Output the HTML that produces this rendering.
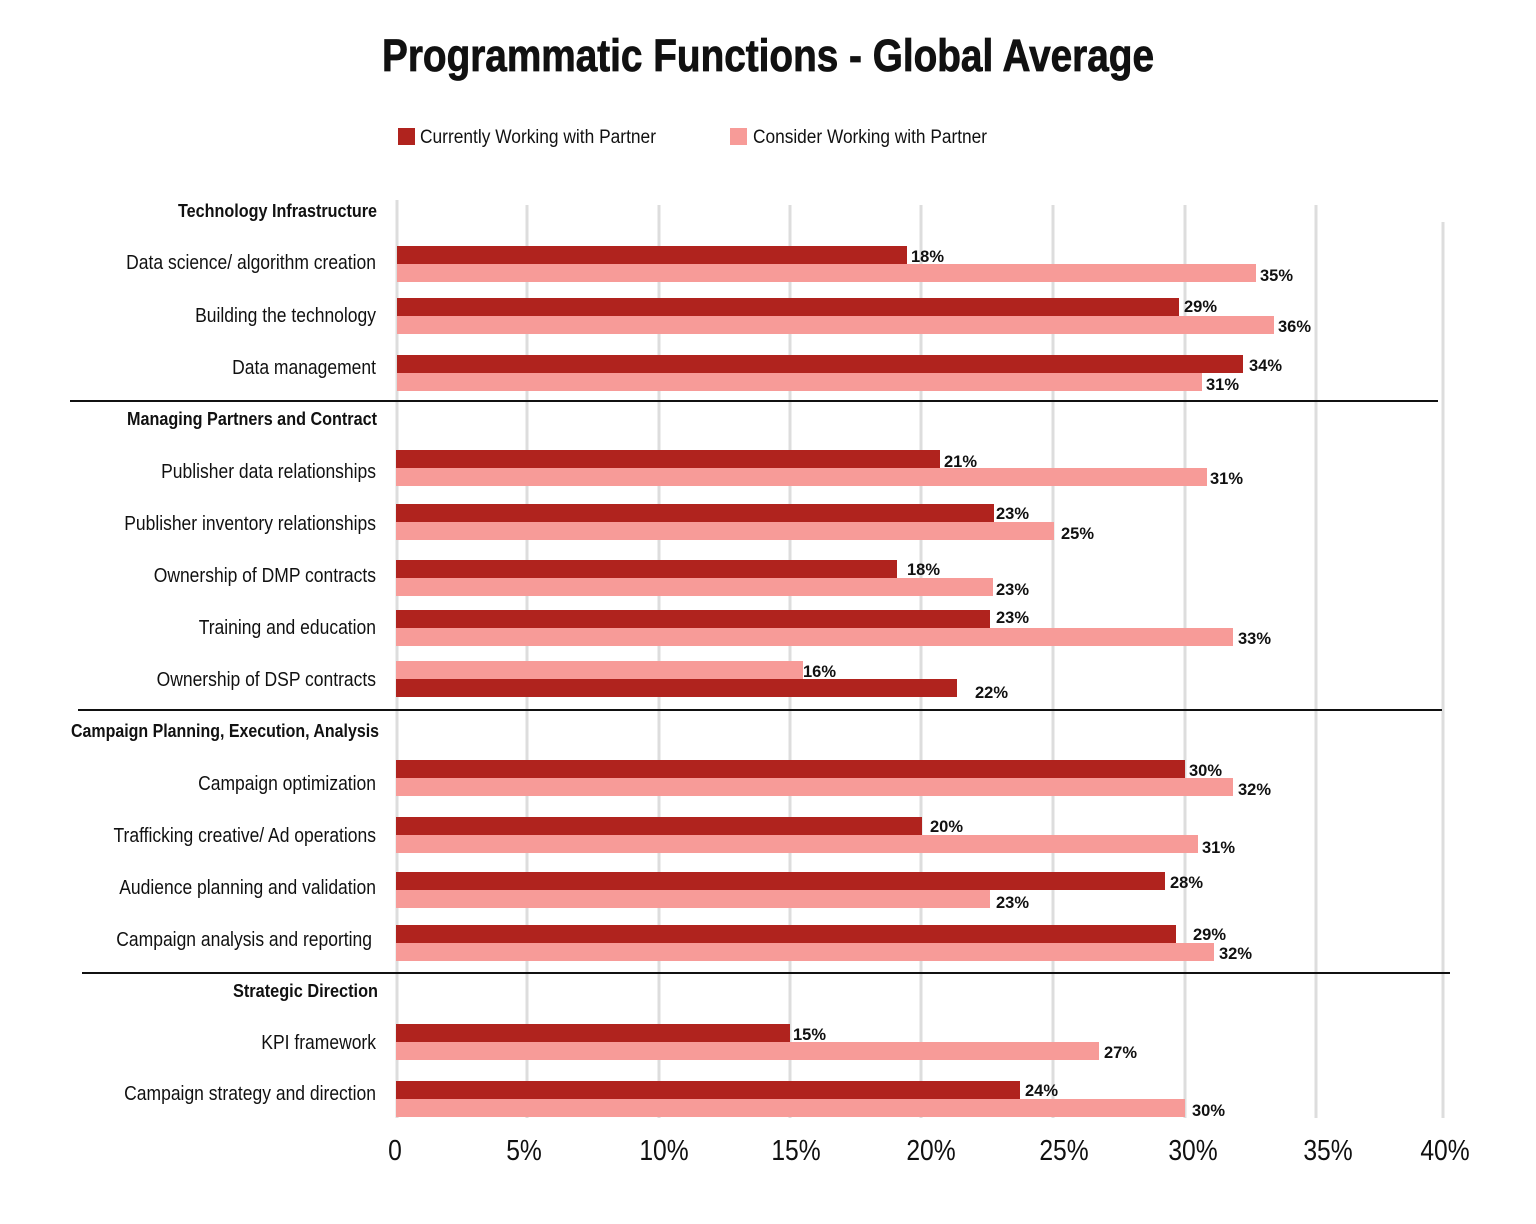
<!DOCTYPE html>
<html><head><meta charset="utf-8"><style>
html,body{margin:0;padding:0;background:#fff}
svg{display:block}
text{font-family:"Liberation Sans",sans-serif;fill:#111}
.lab{font-size:20px}
.hd{font-size:18px;font-weight:bold}
.v{font-size:17px;font-weight:bold}
.ax{font-size:29px}
</style></head><body>
<svg width="1536" height="1224" viewBox="0 0 1536 1224">
<rect width="1536" height="1224" fill="#fff"/>
<text x="768" y="71" text-anchor="middle" font-size="45" font-weight="bold" textLength="772" lengthAdjust="spacingAndGlyphs" stroke="#111" stroke-width="0.8">Programmatic Functions - Global Average</text>
<rect x="398" y="128" width="17" height="17" fill="#b0231e"/>
<text x="420" y="143" font-size="19" textLength="236" lengthAdjust="spacingAndGlyphs">Currently Working with Partner</text>
<rect x="730" y="128" width="17" height="17" fill="#f79b98"/>
<text x="753" y="143" font-size="19" textLength="234" lengthAdjust="spacingAndGlyphs">Consider Working with Partner</text>
<g stroke="#dddddd" stroke-width="3">
<line x1="397" y1="200" x2="397" y2="1118"/><line x1="527" y1="205" x2="527" y2="1118"/>
<line x1="659" y1="205" x2="659" y2="1118"/><line x1="790" y1="205" x2="790" y2="1118"/>
<line x1="921" y1="205" x2="921" y2="1118"/><line x1="1053" y1="205" x2="1053" y2="1118"/>
<line x1="1185" y1="205" x2="1185" y2="1118"/><line x1="1316" y1="205" x2="1316" y2="1118"/>
<line x1="1443" y1="222" x2="1443" y2="1118"/>
</g>
<g stroke="#111" stroke-width="2">
<line x1="70" y1="401" x2="1438" y2="401"/><line x1="78" y1="710" x2="1442" y2="710"/><line x1="82" y1="973" x2="1450" y2="973"/>
</g>
<g>
<rect x="397" y="246" width="510" height="18" fill="#b0231e"/><rect x="397" y="264" width="859" height="18" fill="#f79b98"/>
<rect x="397" y="298" width="782" height="18" fill="#b0231e"/><rect x="397" y="316" width="877" height="18" fill="#f79b98"/>
<rect x="397" y="355" width="846" height="18" fill="#b0231e"/><rect x="397" y="373" width="805" height="18" fill="#f79b98"/>
<rect x="396" y="450" width="544" height="18" fill="#b0231e"/><rect x="396" y="468" width="811" height="18" fill="#f79b98"/>
<rect x="396" y="504" width="598" height="18" fill="#b0231e"/><rect x="396" y="522" width="658" height="18" fill="#f79b98"/>
<rect x="396" y="560" width="501" height="18" fill="#b0231e"/><rect x="396" y="578" width="597" height="18" fill="#f79b98"/>
<rect x="396" y="610" width="594" height="18" fill="#b0231e"/><rect x="396" y="628" width="837" height="18" fill="#f79b98"/>
<rect x="396" y="661" width="407" height="18" fill="#f79b98"/><rect x="396" y="679" width="561" height="18" fill="#b0231e"/>
<rect x="396" y="760" width="789" height="18" fill="#b0231e"/><rect x="396" y="778" width="837" height="18" fill="#f79b98"/>
<rect x="396" y="817" width="526" height="18" fill="#b0231e"/><rect x="396" y="835" width="802" height="18" fill="#f79b98"/>
<rect x="396" y="872" width="769" height="18" fill="#b0231e"/><rect x="396" y="890" width="594" height="18" fill="#f79b98"/>
<rect x="396" y="925" width="780" height="18" fill="#b0231e"/><rect x="396" y="943" width="818" height="18" fill="#f79b98"/>
<rect x="396" y="1024" width="394" height="18" fill="#b0231e"/><rect x="396" y="1042" width="703" height="18" fill="#f79b98"/>
<rect x="396" y="1081" width="624" height="18" fill="#b0231e"/><rect x="396" y="1099" width="789" height="18" fill="#f79b98"/>
</g>
<g class="v">
<text class="v" x="911" y="262" textLength="33" lengthAdjust="spacingAndGlyphs">18%</text>
<text class="v" x="1260" y="281" textLength="33" lengthAdjust="spacingAndGlyphs">35%</text>
<text class="v" x="1184" y="312" textLength="33" lengthAdjust="spacingAndGlyphs">29%</text>
<text class="v" x="1278" y="332" textLength="33" lengthAdjust="spacingAndGlyphs">36%</text>
<text class="v" x="1249" y="371" textLength="33" lengthAdjust="spacingAndGlyphs">34%</text>
<text class="v" x="1206" y="390" textLength="33" lengthAdjust="spacingAndGlyphs">31%</text>
<text class="v" x="944" y="467" textLength="33" lengthAdjust="spacingAndGlyphs">21%</text>
<text class="v" x="1210" y="484" textLength="33" lengthAdjust="spacingAndGlyphs">31%</text>
<text class="v" x="996" y="519" textLength="33" lengthAdjust="spacingAndGlyphs">23%</text>
<text class="v" x="1061" y="539" textLength="33" lengthAdjust="spacingAndGlyphs">25%</text>
<text class="v" x="907" y="575" textLength="33" lengthAdjust="spacingAndGlyphs">18%</text>
<text class="v" x="996" y="595" textLength="33" lengthAdjust="spacingAndGlyphs">23%</text>
<text class="v" x="996" y="623" textLength="33" lengthAdjust="spacingAndGlyphs">23%</text>
<text class="v" x="1238" y="644" textLength="33" lengthAdjust="spacingAndGlyphs">33%</text>
<text class="v" x="803" y="677" textLength="33" lengthAdjust="spacingAndGlyphs">16%</text>
<text class="v" x="975" y="698" textLength="33" lengthAdjust="spacingAndGlyphs">22%</text>
<text class="v" x="1189" y="776" textLength="33" lengthAdjust="spacingAndGlyphs">30%</text>
<text class="v" x="1238" y="795" textLength="33" lengthAdjust="spacingAndGlyphs">32%</text>
<text class="v" x="930" y="832" textLength="33" lengthAdjust="spacingAndGlyphs">20%</text>
<text class="v" x="1202" y="853" textLength="33" lengthAdjust="spacingAndGlyphs">31%</text>
<text class="v" x="1170" y="888" textLength="33" lengthAdjust="spacingAndGlyphs">28%</text>
<text class="v" x="996" y="908" textLength="33" lengthAdjust="spacingAndGlyphs">23%</text>
<text class="v" x="1193" y="940" textLength="33" lengthAdjust="spacingAndGlyphs">29%</text>
<text class="v" x="1219" y="959" textLength="33" lengthAdjust="spacingAndGlyphs">32%</text>
<text class="v" x="793" y="1040" textLength="33" lengthAdjust="spacingAndGlyphs">15%</text>
<text class="v" x="1104" y="1058" textLength="33" lengthAdjust="spacingAndGlyphs">27%</text>
<text class="v" x="1025" y="1096" textLength="33" lengthAdjust="spacingAndGlyphs">24%</text>
<text class="v" x="1192" y="1116" textLength="33" lengthAdjust="spacingAndGlyphs">30%</text>
</g>
<text class="hd" x="377" y="217" text-anchor="end" textLength="199" lengthAdjust="spacingAndGlyphs">Technology Infrastructure</text>
<text class="hd" x="377" y="425" text-anchor="end" textLength="250" lengthAdjust="spacingAndGlyphs">Managing Partners and Contract</text>
<text class="hd" x="379" y="737" text-anchor="end" textLength="308" lengthAdjust="spacingAndGlyphs">Campaign Planning, Execution, Analysis</text>
<text class="hd" x="378" y="997" text-anchor="end" textLength="145" lengthAdjust="spacingAndGlyphs">Strategic Direction</text>
<g class="lab">
<text class="lab" transform="translate(376,269) scale(0.875,1)" text-anchor="end">Data science/ algorithm creation</text>
<text class="lab" transform="translate(376,322) scale(0.875,1)" text-anchor="end">Building the technology</text>
<text class="lab" transform="translate(376,374) scale(0.875,1)" text-anchor="end">Data management</text>
<text class="lab" transform="translate(376,478) scale(0.875,1)" text-anchor="end">Publisher data relationships</text>
<text class="lab" transform="translate(376,530) scale(0.875,1)" text-anchor="end">Publisher inventory relationships</text>
<text class="lab" transform="translate(376,582) scale(0.875,1)" text-anchor="end">Ownership of DMP contracts</text>
<text class="lab" transform="translate(376,634) scale(0.875,1)" text-anchor="end">Training and education</text>
<text class="lab" transform="translate(376,686) scale(0.875,1)" text-anchor="end">Ownership of DSP contracts</text>
<text class="lab" transform="translate(376,790) scale(0.875,1)" text-anchor="end">Campaign optimization</text>
<text class="lab" transform="translate(376,842) scale(0.875,1)" text-anchor="end">Trafficking creative/ Ad operations</text>
<text class="lab" transform="translate(376,894) scale(0.875,1)" text-anchor="end">Audience planning and validation</text>
<text class="lab" transform="translate(372,946) scale(0.875,1)" text-anchor="end">Campaign analysis and reporting</text>
<text class="lab" transform="translate(376,1049) scale(0.875,1)" text-anchor="end">KPI framework</text>
<text class="lab" transform="translate(376,1100) scale(0.875,1)" text-anchor="end">Campaign strategy and direction</text>
</g>
<g>
<text class="ax" transform="translate(395,1160) scale(0.85,1)" text-anchor="middle">0</text>
<text class="ax" transform="translate(524,1160) scale(0.85,1)" text-anchor="middle">5%</text>
<text class="ax" transform="translate(664,1160) scale(0.85,1)" text-anchor="middle">10%</text>
<text class="ax" transform="translate(796,1160) scale(0.85,1)" text-anchor="middle">15%</text>
<text class="ax" transform="translate(931,1160) scale(0.85,1)" text-anchor="middle">20%</text>
<text class="ax" transform="translate(1064,1160) scale(0.85,1)" text-anchor="middle">25%</text>
<text class="ax" transform="translate(1193,1160) scale(0.85,1)" text-anchor="middle">30%</text>
<text class="ax" transform="translate(1328,1160) scale(0.85,1)" text-anchor="middle">35%</text>
<text class="ax" transform="translate(1445,1160) scale(0.85,1)" text-anchor="middle">40%</text>
</g>
</svg>
</body></html>
